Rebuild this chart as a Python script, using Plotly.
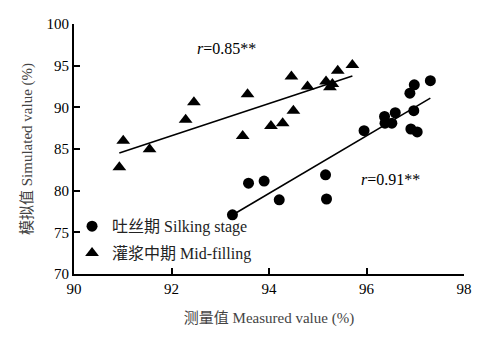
import numpy as np
import plotly.graph_objects as go

# Silking stage: measured vs simulated (%)
silking_measured = [93.25, 93.58, 93.90, 94.21, 95.16, 95.18, 95.95, 96.37, 96.38,
                    96.52, 96.59, 96.89, 96.98, 97.31, 96.97, 96.91, 97.04]
silking_simulated = [77.1, 80.9, 81.15, 78.9, 81.9, 79.0, 87.2, 88.9, 88.1,
                     88.1, 89.35, 91.7, 92.7, 93.2, 89.6, 87.4, 87.05]

# Mid-filling stage: measured vs simulated (%)
filling_measured = [91.01, 90.93, 91.55, 92.29, 92.46, 93.56, 93.46, 94.04, 94.28,
                    94.50, 94.46, 94.79, 95.17, 95.30, 95.25, 95.41, 95.71]
filling_simulated = [86.0, 82.8, 84.96, 88.5, 90.6, 91.56, 86.56, 87.76, 88.08,
                     89.6, 93.7, 92.5, 93.1, 92.8, 92.4, 94.4, 95.08]

series_names = ["吐丝期 Silking stage", "灌浆中期 Mid-filling"]
r_labels = ["<i>r</i>=0.91**", "<i>r</i>=0.85**"]
x_ticks = [90, 92, 94, 96, 98]
y_ticks = [70, 75, 80, 85, 90, 95, 100]

SERIF = "Liberation Serif, Noto Sans CJK SC, serif"

fig = go.Figure()

groups = [
    (silking_measured, silking_simulated, "circle", 11, "s"),
    (filling_measured, filling_simulated, "triangle-up", 12, "f"),
]
for (xs, ys, sym, size, grp), name in zip(groups, series_names):
    fig.add_trace(go.Scatter(
        x=xs, y=ys, mode="markers", name=name, legendgroup=grp,
        marker=dict(symbol=sym, size=size, color="black", line=dict(width=0)),
    ))

# least-squares trend line for each stage
for xs, ys, _, _, _ in groups:
    k, b = np.polyfit(xs, ys, 1)
    xl = np.array([min(xs), max(xs)])
    fig.add_trace(go.Scatter(
        x=xl, y=k * xl + b, mode="lines", showlegend=False,
        line=dict(color="black", width=1.6), hoverinfo="skip",
    ))

fig.add_annotation(x=96.49, y=81.3, text=r_labels[0], showarrow=False,
                   font=dict(family=SERIF, size=16, color="black"))
fig.add_annotation(x=93.12, y=97.1, text=r_labels[1], showarrow=False,
                   font=dict(family=SERIF, size=16, color="black"))

axis_common = dict(
    showline=True, linecolor="black", linewidth=2,
    ticks="inside", ticklen=6, tickwidth=2, tickcolor="black",
    showgrid=False, zeroline=False, mirror=False,
    tickfont=dict(family=SERIF, size=15, color="black"),
)

fig.update_xaxes(
    range=[90, 98], tickvals=x_ticks, **axis_common,
    title=dict(text="测量值 Measured value (%)", standoff=16,
               font=dict(family=SERIF, size=15, color="#444")),
)
fig.update_yaxes(
    range=[70, 100], tickvals=y_ticks, **axis_common,
    title=dict(text="模拟值 Simulated value (%)", standoff=10,
               font=dict(family=SERIF, size=15, color="#444")),
)

fig.update_layout(
    width=484, height=341,
    margin=dict(l=74, r=14, t=24, b=67),
    paper_bgcolor="white", plot_bgcolor="white",
    showlegend=True,
    legend=dict(
        x=-0.005, y=0.015, xanchor="left", yanchor="bottom",
        bgcolor="rgba(0,0,0,0)", itemwidth=30,
        font=dict(family=SERIF, size=16, color="#222"),
        tracegroupgap=3,
    ),
)

fig.write_html("out.html")
